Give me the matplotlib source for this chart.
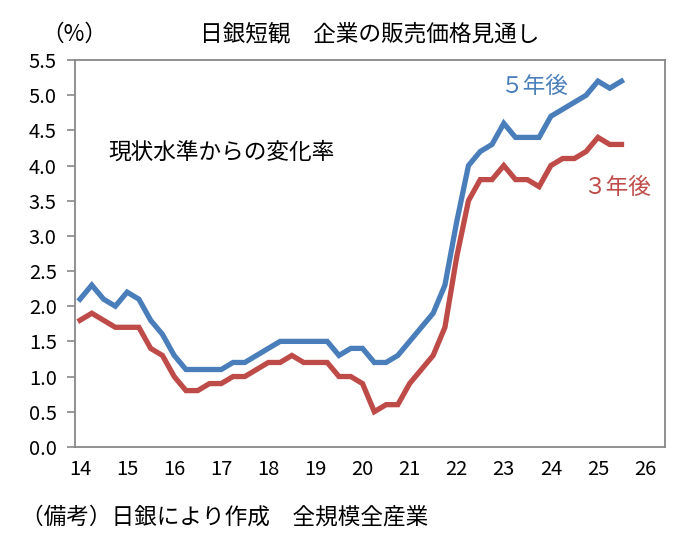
import numpy as np
import matplotlib
matplotlib.use('Agg')
import matplotlib.pyplot as plt

plt.rcParams['font.family'] = ['Noto Sans CJK JP', 'DejaVu Sans']

# quarterly survey, first point = 2014 Q1
start_year = 14.0
yr5 = [2.1, 2.3, 2.1, 2.0,
       2.2, 2.1, 1.8, 1.6,
       1.3, 1.1, 1.1, 1.1,
       1.1, 1.2, 1.2, 1.3,
       1.4, 1.5, 1.5, 1.5,
       1.5, 1.5, 1.3, 1.4,
       1.4, 1.2, 1.2, 1.3,
       1.5, 1.7, 1.9, 2.3,
       3.2, 4.0, 4.2, 4.3,
       4.6, 4.4, 4.4, 4.4,
       4.7, 4.8, 4.9, 5.0,
       5.2, 5.1, 5.2]
yr3 = [1.8, 1.9, 1.8, 1.7,
       1.7, 1.7, 1.4, 1.3,
       1.0, 0.8, 0.8, 0.9,
       0.9, 1.0, 1.0, 1.1,
       1.2, 1.2, 1.3, 1.2,
       1.2, 1.2, 1.0, 1.0,
       0.9, 0.5, 0.6, 0.6,
       0.9, 1.1, 1.3, 1.7,
       2.7, 3.5, 3.8, 3.8,
       4.0, 3.8, 3.8, 3.7,
       4.0, 4.1, 4.1, 4.2,
       4.4, 4.3, 4.3]
x_ticks = list(range(14, 27))
y_ticks = [0.0, 0.5, 1.0, 1.5, 2.0, 2.5, 3.0, 3.5, 4.0, 4.5, 5.0, 5.5]

x = start_year + np.arange(len(yr5)) * 0.25

blue = '#4a7ebb'
red = '#be4b48'
fs = 16.3

fig = plt.figure(figsize=(6.93, 5.41), dpi=100)
ax = fig.add_axes([0.108, 0.174, 0.852, 0.715])

ax.plot(x, yr5, color=blue, lw=3.8, solid_joinstyle='miter')
ax.plot(x, yr3, color=red, lw=3.8, solid_joinstyle='miter')

ax.set_xlim(13.89, 26.43)
ax.set_ylim(0, 5.5)
ax.set_xticks(x_ticks)
ax.set_xticklabels([str(t) for t in x_ticks])
ax.set_yticks(y_ticks)
ax.set_yticklabels([f'{t:.1f}' for t in y_ticks])
ax.tick_params(axis='x', length=0, pad=9, labelsize=14.5)
ax.tick_params(axis='y', length=6, width=1.2, color='#888888', pad=7, labelsize=14.5)

for s in ax.spines.values():
    s.set_color('#888888')
    s.set_linewidth(1.3)

fig.text(0.06, 0.937, '（%）', fontsize=fs, ha='left', va='center')
fig.text(0.533, 0.937, '日銀短観　企業の販売価格見通し', fontsize=fs, ha='center', va='center')
ax.text(14.59, 4.19, '現状水準からの変化率', fontsize=fs, ha='left', va='center')
ax.text(22.92, 5.13, '５年後', fontsize=fs, color=blue, ha='left', va='center')
ax.text(24.69, 3.69, '３年後', fontsize=fs, color=red, ha='left', va='center')
fig.text(0.03, 0.044, '（備考）日銀により作成　全規模全産業', fontsize=fs, ha='left', va='center')

fig.savefig('out.png', dpi=100)
